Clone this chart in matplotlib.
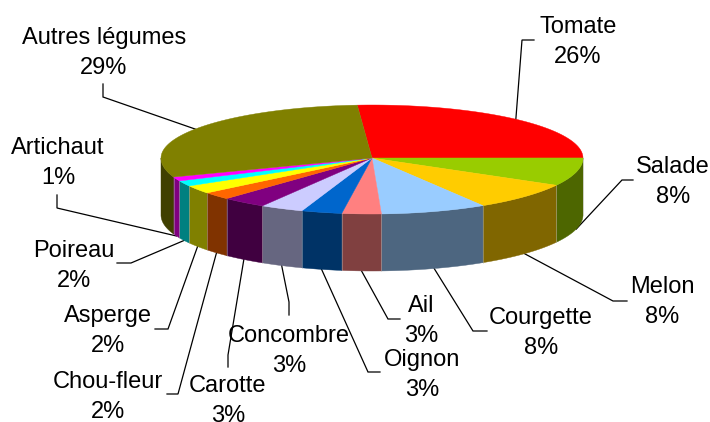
# -*- coding: utf-8 -*-

import numpy as np
import matplotlib
matplotlib.use("Agg")
import matplotlib.pyplot as plt

names = ["Tomate", "Salade", "Melon", "Courgette", "Ail", "Oignon", "Concombre",
         "Carotte", "Chou-fleur", "Asperge", "Poireau", "Artichaut", "Autres légumes"]
shares = [26.1, 8.1, 8.1, 8.1, 3.0, 3.1, 3.3, 3.4, 2.2, 2.4, 1.6, 1.2, 29.4]
percent_labels = ["26%", "8%", "8%", "8%", "3%", "3%", "3%", "3%", "2%", "2%", "2%", "1%", "29%"]
top_colors = ["#FF0000", "#99CC00", "#FFCC00", "#99CCFF", "#FF8080", "#0066CC", "#CCCCFF",
              "#800080", "#FF6600", "#FFFF00", "#00FFFF", "#FF00FF", "#808000"]

# layout in image pixels
cx, cy = 372, 158
rx = 211
ry_back, ry_front = 53, 56
depth = 57
start = -4.0
label_xy = [(578, 42), (673, 182), (662, 302), (541, 333), (421, 321), (422, 375), (289, 351),
            (228, 401), (108, 397), (108, 331), (74, 266), (58, 163), (104, 53)]
elbows = [[(522, 40), (534, 40)], [(622, 180), (633, 180)], [(613, 301), (627, 301)],
          [(473, 331), (487, 331)], [(388, 319), (400, 319)], [(368, 372), (380, 372)],
          [(289, 302), (289, 315)], [(228, 355), (228, 367)], [(178, 394), (167, 394)],
          [(168, 329), (155, 329)], [(131, 263), (117, 263)], [(57, 208), (57, 195)],
          [(103, 97), (103, 84)]]


def rim(deg, drop=0):
    # deg is clockwise from the top of the pie
    a = np.radians(deg)
    c = np.cos(a)
    return cx + rx*np.sin(a), cy - np.where(c > 0, ry_back, ry_front)*c + drop


fig = plt.figure(figsize=(7.1, 4.22), dpi=100)
ax = fig.add_axes([0, 0, 1, 1])
ax.set_xlim(0, 710)
ax.set_ylim(422, 0)
ax.axis("off")

edges = start + np.cumsum([0] + shares) * 360.0 / sum(shares)

for i, name in enumerate(names):
    a0, a1 = edges[i], edges[i+1]
    steps = np.linspace(a0, a1, 80)

    # side wall, only the front half shows
    s0, s1 = max(a0, 90), min(a1, 270)
    if s1 > s0:
        side = np.linspace(s0, s1, 80)
        xs, ys = rim(side)
        xb, yb = rim(side, depth)
        rgb = np.array(matplotlib.colors.to_rgb(top_colors[i])) * 0.5
        ax.fill(np.r_[xs, xb[::-1]], np.r_[ys, yb[::-1]], color=rgb, lw=0.3, zorder=3)
        ax.plot([xs[0], xb[0]], [ys[0], yb[0]], color="#BBBBBB", lw=0.5, alpha=0.6, zorder=3.5)

    # top face
    xt, yt = rim(steps)
    ax.fill(np.r_[cx, xt], np.r_[cy, yt], color=top_colors[i], lw=0.3, zorder=4)

    # leader line, starts on the rim at the middle of the slice
    mid = (a0 + a1) / 2
    start_pt = rim(mid, depth if 90 < mid < 270 else 0)
    pts = [start_pt] + elbows[i]
    ax.plot([p[0] for p in pts], [p[1] for p in pts], color="black", lw=0.9, zorder=2,
            solid_joinstyle="miter")

    ax.text(label_xy[i][0], label_xy[i][1], name + "\n" + percent_labels[i], ha="center",
            va="center", family="Liberation Sans", fontsize=17, linespacing=1.42,
            color="black", zorder=6)

fig.savefig("out.png", dpi=100)
